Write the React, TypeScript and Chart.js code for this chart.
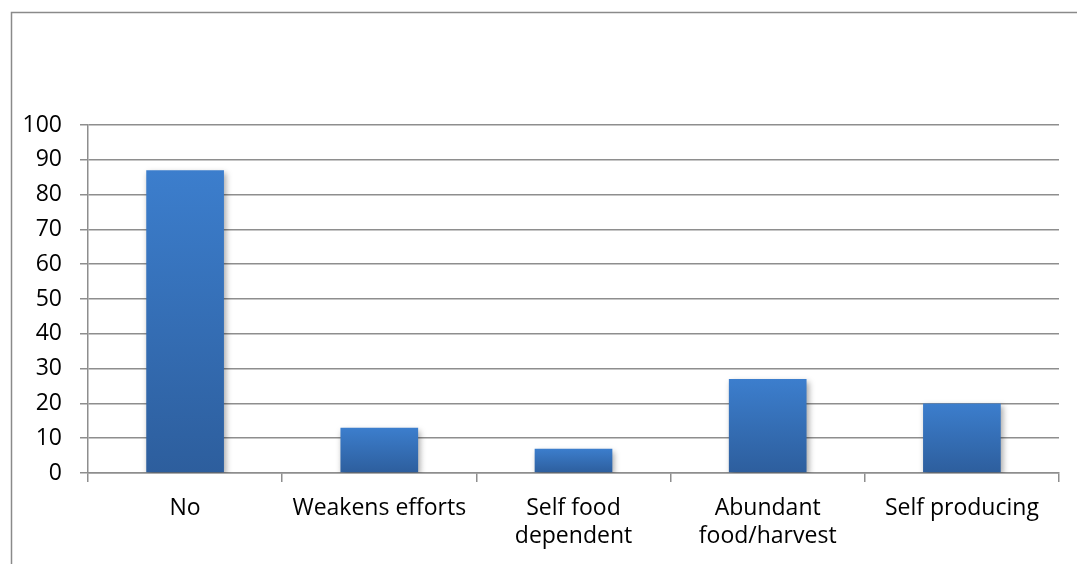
import React, { useEffect, useRef } from "react";
import { Chart, registerables } from "chart.js";

Chart.register(...registerables);

// Survey answers and their counts
const categories: (string | string[])[] = [
  "No",
  "Weakens efforts",
  ["Self food", "dependent"],
  ["Abundant", "food/harvest"],
  "Self producing",
];
const responses = [87, 13, 7, 27, 20];

const yMin = 0;
const yMax = 100;
const yStep = 10;

const GRID = "#8e8e8e";
const FONT = "'Open Sans', 'Liberation Sans', sans-serif";

// Outer frame around the chart
const framePlugin = {
  id: "frame",
  beforeDraw(chart: Chart) {
    const { ctx } = chart;
    ctx.save();
    ctx.fillStyle = "#ffffff";
    ctx.fillRect(0, 0, chart.width, chart.height);
    ctx.strokeStyle = "#8a8a8a";
    ctx.lineWidth = 1.5;
    ctx.strokeRect(11.5, 12.5, chart.width + 100, chart.height + 100);
    ctx.restore();
  },
};

// Soft drop shadow behind the bars
const shadowPlugin = {
  id: "barShadow",
  beforeDatasetsDraw(chart: Chart) {
    const { ctx } = chart;
    ctx.save();
    ctx.shadowColor = "rgba(0,0,0,0.35)";
    ctx.shadowBlur = 6;
    ctx.shadowOffsetX = 2;
    ctx.shadowOffsetY = 3;
  },
  afterDatasetsDraw(chart: Chart) {
    chart.ctx.restore();
  },
};

export default function App() {
  const canvasRef = useRef<HTMLCanvasElement | null>(null);

  useEffect(() => {
    if (!canvasRef.current) return;
    const chart = new Chart(canvasRef.current, {
      type: "bar",
      data: {
        labels: categories,
        datasets: [
          {
            data: responses,
            barPercentage: 0.8,
            categoryPercentage: 0.5,
            backgroundColor: (c: any) => {
              const ch = c.chart;
              const y = ch.scales?.y;
              if (!y || c.raw == null) return "#3a78c4";
              const top = y.getPixelForValue(c.raw);
              const bottom = y.getPixelForValue(0);
              if (!isFinite(top) || !isFinite(bottom) || top === bottom) return "#3a78c4";
              const g = ch.ctx.createLinearGradient(0, top, 0, bottom);
              g.addColorStop(0, "#3c7ecd");
              g.addColorStop(1, "#2d5e9d");
              return g;
            },
            borderWidth: 0,
          },
        ],
      },
      options: {
        animation: false,
        responsive: true,
        maintainAspectRatio: false,
        layout: { padding: { left: 0, top: 125, right: 18, bottom: 0 } },
        plugins: {
          legend: { display: false },
          tooltip: { enabled: false },
        },
        scales: {
          x: {
            offset: true,
            grid: {
              offset: true,
              drawOnChartArea: false,
              drawTicks: true,
              tickLength: 9,
              color: GRID,
              lineWidth: 1.5,
            },
            border: { color: GRID, width: 1.5 },
            ticks: {
              color: "#000000",
              font: { family: FONT, size: 23, lineHeight: 1.22 },
              padding: 12,
              maxRotation: 0,
              autoSkip: false,
            },
            afterFit: (s: any) => {
              s.height = 91;
            },
          },
          y: {
            min: yMin,
            max: yMax,
            grid: {
              color: GRID,
              lineWidth: 1.5,
              tickLength: 8,
            },
            border: { color: GRID, width: 1.5 },
            ticks: {
              stepSize: yStep,
              color: "#000000",
              font: { family: FONT, size: 23 },
              padding: 18,
            },
            afterFit: (s: any) => {
              s.width = 88;
            },
          },
        },
      },
      plugins: [framePlugin, shadowPlugin],
    });
    return () => chart.destroy();
  }, []);

  return (
    <div style={{ position: "fixed", left: 0, top: 0, width: 1077, height: 564 }}>
      <canvas ref={canvasRef} />
    </div>
  );
}
